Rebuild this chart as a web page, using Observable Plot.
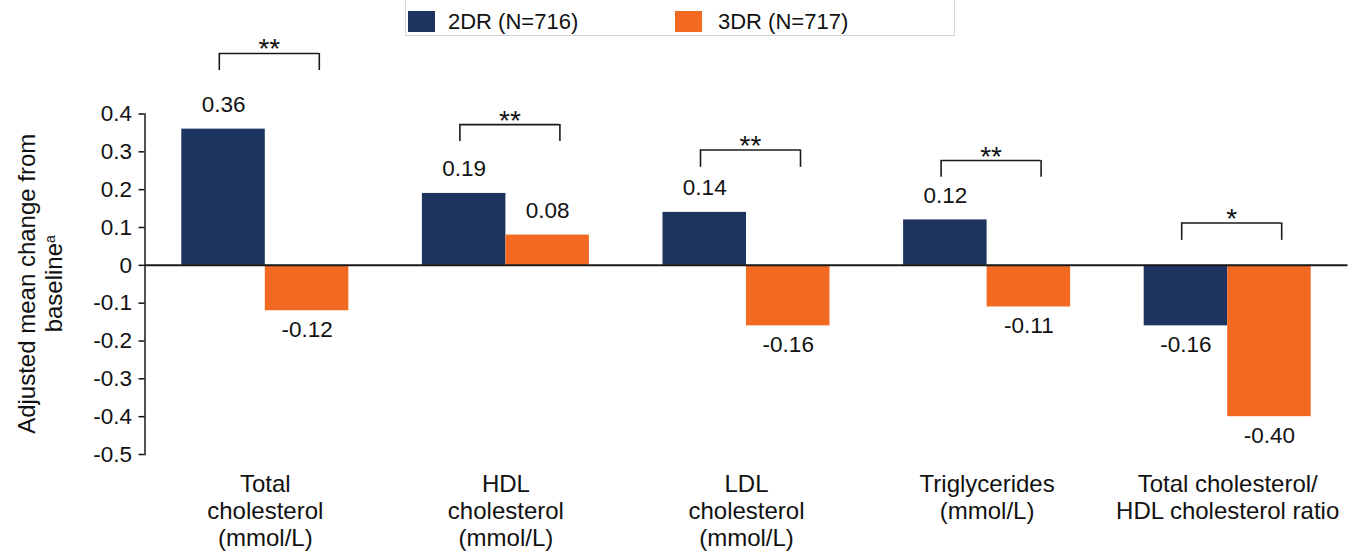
<!DOCTYPE html>
<html>
<head>
<meta charset="utf-8">
<script src="https://cdn.jsdelivr.net/npm/d3@7"></script>
<script src="https://cdn.jsdelivr.net/npm/@observablehq/plot@0.6"></script>
<style>
  body { margin: 0; background: #fff; font-family: "Liberation Sans", Arial, sans-serif; }
  #wrap { position: relative; width: 1359px; height: 556px; overflow: hidden; background: #fff; }
  #legend { position: absolute; left: 405px; top: -2px; width: 550px; height: 38px; border: 1px solid #d4d4d4; box-sizing: border-box; }
  .sw { position: absolute; top: 12px; width: 27px; height: 21px; }
  .lt { position: absolute; top: 12px; font-size: 22px; line-height: 22px; color: #111; white-space: nowrap; }
  #chart { position: absolute; left: 0; top: 0; }
</style>
</head>
<body>
<div id="wrap">
  <div id="chart"></div>
  <div id="legend"></div>
</div>
<script>
// ---- data ----
const categories = [
  "Total\ncholesterol\n(mmol/L)",
  "HDL\ncholesterol\n(mmol/L)",
  "LDL\ncholesterol\n(mmol/L)",
  "Triglycerides\n(mmol/L)",
  "Total cholesterol/\nHDL cholesterol ratio"
];
const seriesNames = ["2DR (N=716)", "3DR (N=717)"];
const values2DR = [0.36, 0.19, 0.14, 0.12, -0.16];
const values3DR = [-0.12, 0.08, -0.16, -0.11, -0.40];
const seriesColors = ["#1d3360", "#f26a22"];
const significance = ["**", "**", "**", "**", "*"];
const bracketTop = [0.56, 0.372, 0.305, 0.277, 0.112];
const bracketBottom = [0.515, 0.327, 0.259, 0.233, 0.066];
const yTicks = [0.4, 0.3, 0.2, 0.1, 0, -0.1, -0.2, -0.3, -0.4, -0.5];
const yDomain = [-0.5, 0.4];
const yLabelLines = ["Adjusted mean change from", "baseline"];
const yLabelSup = "a";

// ---- tables ----
const rows = categories.flatMap((c, i) => [
  {category: c, series: seriesNames[0], value: values2DR[i]},
  {category: c, series: seriesNames[1], value: values3DR[i]}
]);
const brackets = categories.map((c, i) => ({category: c, top: bracketTop[i], bottom: bracketBottom[i], sig: significance[i]}));
const s0 = rows.filter(d => d.series === seriesNames[0]);
const s1 = rows.filter(d => d.series === seriesNames[1]);
const fmt = d => d.value.toFixed(2);

const plot = Plot.plot({
  width: 1359,
  height: 556,
  marginLeft: 144.5,
  marginRight: 11.5,
  marginTop: 113.5,
  marginBottom: 102,
  style: {fontFamily: "'Liberation Sans', Arial, sans-serif", color: "#111", background: "transparent"},
  x: {domain: categories, padding: 0, round: false, axis: null},
  y: {domain: yDomain, axis: null},
  color: {domain: seriesNames, range: seriesColors},
  marks: [
    Plot.barY(s0, {x: "category", y: "value", fill: "series", insetLeft: 36.8, insetRight: 120.3}),
    Plot.barY(s1, {x: "category", y: "value", fill: "series", insetLeft: 120.3, insetRight: 36.8}),
    Plot.ruleY([0], {stroke: "#1a1a1a", strokeWidth: 2}),
    Plot.frame({anchor: "left", stroke: "#1a1a1a", strokeWidth: 1.5}),
    Plot.axisY({ticks: yTicks, tickFormat: d => d === 0 ? "0" : d.toFixed(1), tickSize: 6, tickPadding: 7, fontSize: 22.5, strokeWidth: 1.5, label: null}),
    Plot.axisX({tickSize: 0, tickPadding: 18.5, fontSize: 24, lineHeight: 1.12, label: null}),
    // value labels
    Plot.text(s0.filter(d => d.value >= 0), {x: "category", y: "value", text: fmt, dx: -41.75, dy: -17, lineAnchor: "bottom", fontSize: 22.5, fill: "#111"}),
    Plot.text(s0.filter(d => d.value < 0), {x: "category", y: "value", text: fmt, dx: -41.75, dy: 10, lineAnchor: "top", fontSize: 22.5, fill: "#111"}),
    Plot.text(s1.filter(d => d.value >= 0), {x: "category", y: "value", text: fmt, dx: 41.75, dy: -17, lineAnchor: "bottom", fontSize: 22.5, fill: "#111"}),
    Plot.text(s1.filter(d => d.value < 0), {x: "category", y: "value", text: fmt, dx: 41.75, dy: 10, lineAnchor: "top", fontSize: 22.5, fill: "#111"}),
    // significance brackets
    Plot.tickY(brackets, {x: "category", y: "top", insetLeft: 74.3, insetRight: 66.3, stroke: "#1a1a1a", strokeWidth: 1.6}),
    Plot.ruleX(brackets, {x: "category", y1: "bottom", y2: "top", dx: -46, stroke: "#1a1a1a", strokeWidth: 1.6}),
    Plot.ruleX(brackets, {x: "category", y1: "bottom", y2: "top", dx: 54, stroke: "#1a1a1a", strokeWidth: 1.6}),
    Plot.text(brackets, {x: "category", y: "top", text: "sig", dx: 4, dy: 5, lineAnchor: "bottom", fontSize: 28, fill: "#111"})
  ]
});

document.getElementById("chart").appendChild(plot);

// y-axis title with superscript
const yScale = plot.scale("y");
const yMid = (yScale.range[0] + yScale.range[1]) / 2;
const t = d3.select(plot).append("text")
  .attr("transform", `translate(35,${yMid}) rotate(-90)`)
  .attr("text-anchor", "middle")
  .attr("font-size", 24)
  .attr("fill", "#111");
t.append("tspan").attr("x", 0).text(yLabelLines[0]);
t.append("tspan").attr("x", 0).attr("dy", "1.11em").text(yLabelLines[1]);
t.append("tspan").attr("dy", "-0.5em").attr("font-size", 14).text(yLabelSup);

// legend
const colorScale = plot.scale("color");
const legend = d3.select("#legend");
const swLeft = [2, 269], txLeft = [42, 312];
seriesNames.forEach((s, i) => {
  legend.append("div").attr("class", "sw").style("left", swLeft[i] + "px").style("background", colorScale.range[i]);
  legend.append("div").attr("class", "lt").style("left", txLeft[i] + "px").text(s);
});
</script>
</body>
</html>
